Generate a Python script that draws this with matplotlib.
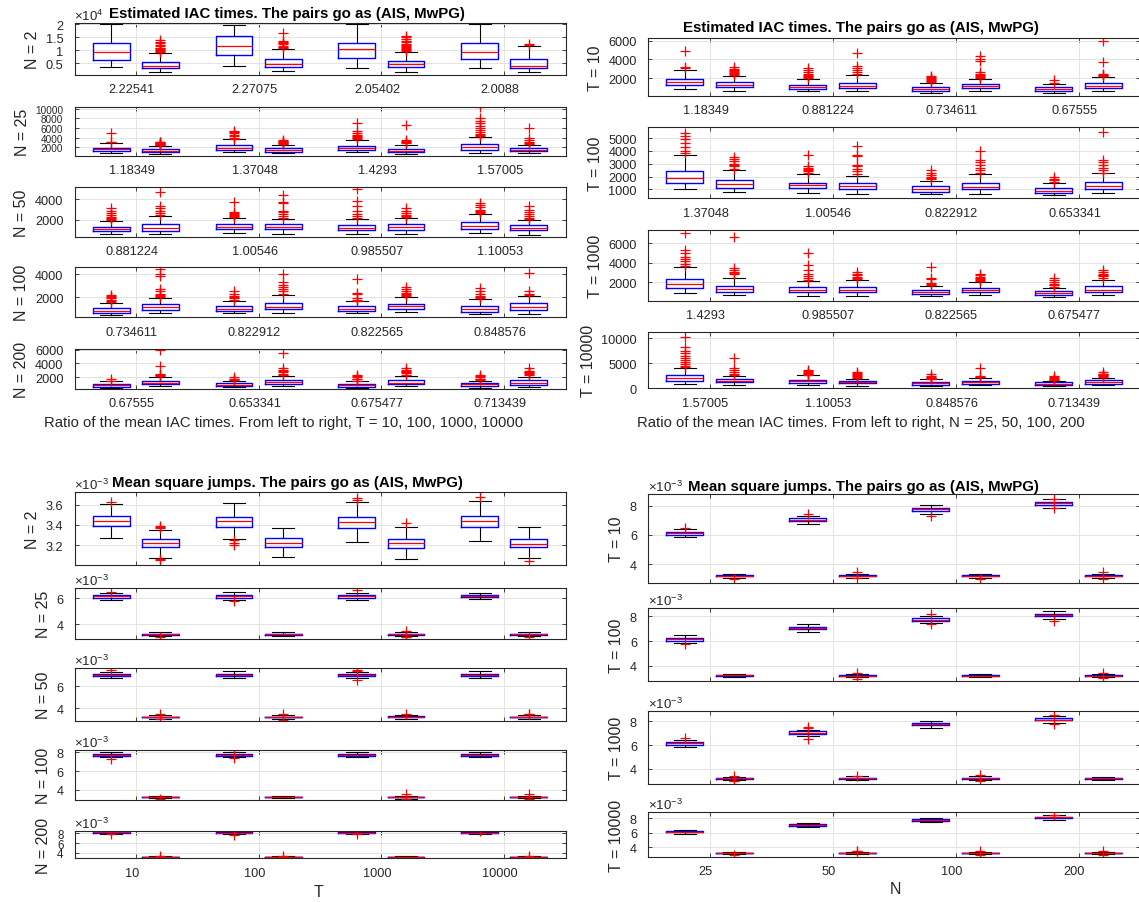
import matplotlib
matplotlib.use('Agg')
import matplotlib.pyplot as plt
from matplotlib.transforms import ScaledTranslation

plt.rcParams['font.family'] = ['Liberation Sans', 'DejaVu Sans']
plt.rcParams['mathtext.default'] = 'regular'

# ---------------- data ----------------
N_vals = [2, 25, 50, 100, 200]
T_vals = [10, 100, 1000, 10000]

# ratio of mean IAC times, rows N, columns T
ratio = [[2.22541, 2.27075, 2.05402, 2.0088],
         [1.18349, 1.37048, 1.4293, 1.57005],
         [0.881224, 1.00546, 0.985507, 1.10053],
         [0.734611, 0.822912, 0.822565, 0.848576],
         [0.67555, 0.653341, 0.675477, 0.713439]]

# IAC times, AIS  (rows N, columns T)
iac_ais_q1 = [[6300, 8300, 7000, 6400], [1280, 1460, 1400, 1500], [870, 1080, 980, 1050],
              [690, 830, 780, 760], [660, 700, 660, 700]]
iac_ais_med = [[9200, 11500, 10300, 9300], [1580, 1880, 1800, 2050], [1050, 1320, 1220, 1400],
               [860, 1030, 975, 1000], [850, 890, 850, 960]]
iac_ais_q3 = [[12800, 15600, 12800, 12800], [1950, 2410, 2320, 2640], [1300, 1530, 1500, 1750],
              [1050, 1250, 1220, 1280], [1050, 1110, 1060, 1190]]
iac_ais_lo = [[3400, 4000, 3100, 3000], [850, 990, 920, 850], [620, 700, 620, 660],
              [450, 640, 640, 550], [450, 520, 480, 450]]
iac_ais_hi = [[20000, 19600, 20000, 20000], [2920, 3700, 3560, 4150], [1890, 2170, 2100, 2600],
              [1470, 1650, 1660, 1830], [1420, 1500, 1440, 1520]]
iac_ais_fl = [
    [[], [], [], []],
    [[3100, 3200, 4900], [3800, 4000, 4300, 4600, 4900, 5200, 5400],
     [3700, 3900, 4200, 4400, 4600, 5000, 5300, 7100],
     [4300, 4500, 4800, 5200, 5600, 6000, 6500, 7000, 7500, 8200, 10300]],
    [[2000, 2100, 2200, 2300, 2500, 2700, 2900, 3100], [2300, 2400, 2500, 2600, 2700, 2800, 3700],
     [2200, 2400, 2600, 2900, 3300, 3800, 5000], [2700, 2800, 2900, 3000, 3200, 3400, 3600]],
    [[1600, 1700, 1800, 1900, 2000, 2100, 2200], [1800, 1900, 2000, 2100, 2300, 2500],
     [1700, 1800, 1900, 2300, 2400, 3600], [1900, 2000, 2100, 2300, 2500, 2800]],
    [[1500, 1800], [1600, 1700, 1800, 2000], [1500, 1700, 1800, 2000, 2200, 2400],
     [1600, 1700, 1800, 2000, 2200, 2400]]]

# IAC times, MwPG
iac_mw_q1 = [[3000, 3400, 3400, 3000], [1060, 1120, 1030, 1180], [930, 1050, 990, 980],
             [950, 990, 990, 880], [960, 990, 980, 950]]
iac_mw_med = [[4000, 4500, 4600, 4000], [1300, 1400, 1330, 1480], [1170, 1270, 1250, 1230],
              [1170, 1200, 1220, 1200], [1200, 1270, 1220, 1240]]
iac_mw_q3 = [[5300, 6400, 5800, 6400], [1600, 1760, 1620, 1830], [1540, 1530, 1530, 1460],
             [1390, 1490, 1460, 1500], [1510, 1580, 1580, 1610]]
iac_mw_lo = [[1650, 1800, 1700, 1400], [700, 760, 700, 720], [600, 630, 630, 540],
             [620, 620, 700, 580], [700, 700, 700, 640]]
iac_mw_hi = [[8800, 10500, 9200, 11500], [2280, 2470, 2430, 2450], [2360, 2070, 2200, 1950],
             [1920, 2180, 2000, 2150], [2100, 2240, 2240, 2080]]
iac_mw_fl = [
    [[9300, 9600, 10000, 10300, 10700, 11000, 11500, 12000, 12600, 13300, 14000],
     [11000, 11300, 11800, 12200, 12600, 13000, 13500, 16600],
     [9600, 10000, 10400, 10800, 11200, 11600, 12000, 12500, 13000, 13500, 14200, 15000, 15500],
     [12000, 12300]],
    [[2400, 2500, 2600, 2700, 2800, 2900, 3000, 3200], [2600, 2800, 2900, 3000, 3200, 3400, 3500],
     [2900, 3000, 3100, 3300, 3500, 6600], [2700, 2900, 3200, 3600, 4000, 6000]],
    [[2500, 2700, 2900, 3100, 3300, 4700], [2200, 2400, 2600, 2800, 2900, 3600, 3700, 4400],
     [2300, 2400, 2500, 2700, 2900, 3100], [2100, 2200, 2400, 2600, 2800, 3000, 3300]],
    [[2000, 2100, 2200, 2300, 2500, 2700, 3800, 4000, 4400], [2300, 2500, 2700, 2900, 3100, 3300, 4000],
     [2100, 2200, 2300, 2400, 2500, 2700, 2900], [2200, 2300, 2500, 4100]],
    [[2200, 2300, 2400, 2500, 3700, 5950], [2300, 2500, 2700, 2900, 3100, 3300, 5500],
     [2400, 2600, 2700, 2800, 2900, 3100, 3300], [2300, 2500, 2600, 2700, 2800, 2900, 3300]]]

# Mean square jumps (in units of 1e-3), AIS
msj_ais_q1 = [[3.392, 3.382, 3.369, 3.382], [6.03, 6.04, 6.03, 6.05], [6.95, 6.95, 6.96, 6.95],
              [7.65, 7.65, 7.65, 7.64], [8.08, 8.05, 8.07, 8.06]]
msj_ais_med = [[3.435, 3.441, 3.425, 3.435], [6.13, 6.15, 6.14, 6.16], [7.05, 7.06, 7.05, 7.06],
               [7.75, 7.74, 7.75, 7.74], [8.17, 8.10, 8.15, 8.13]]
msj_ais_q3 = [[3.484, 3.481, 3.474, 3.484], [6.23, 6.25, 6.24, 6.26], [7.16, 7.16, 7.15, 7.16],
              [7.85, 7.84, 7.85, 7.84], [8.26, 8.20, 8.24, 8.22]]
msj_ais_lo = [[3.266, 3.260, 3.226, 3.243], [5.88, 5.87, 5.88, 5.90], [6.76, 6.76, 6.80, 6.77],
              [7.46, 7.46, 7.47, 7.46], [7.86, 7.80, 7.85, 7.83]]
msj_ais_hi = [[3.607, 3.613, 3.623, 3.640], [6.40, 6.48, 6.42, 6.42], [7.33, 7.36, 7.30, 7.36],
              [8.03, 8.03, 8.02, 8.02], [8.47, 8.40, 8.45, 8.42]]
msj_ais_fl = [[[3.63], [3.245, 3.225, 3.205], [3.645, 3.665], [3.678]],
              [[6.50], [5.75], [6.62], []],
              [[7.45], [], [7.50, 7.40, 6.55], []],
              [[7.32], [8.20, 7.35], [], []],
              [[8.45, 7.82], [7.65], [8.55, 7.80], [8.50]]]

# Mean square jumps (in units of 1e-3), MwPG
msj_mw_q1 = [[3.177, 3.177, 3.167, 3.177], [3.17, 3.17, 3.17, 3.17], [3.17, 3.17, 3.17, 3.17],
             [3.17, 3.17, 3.17, 3.17], [3.17, 3.17, 3.17, 3.17]]
msj_mw_med = [[3.217, 3.217, 3.217, 3.210], [3.21, 3.22, 3.21, 3.21], [3.21, 3.21, 3.22, 3.21],
              [3.21, 3.21, 3.21, 3.22], [3.21, 3.21, 3.21, 3.21]]
msj_mw_q3 = [[3.256, 3.266, 3.256, 3.256], [3.25, 3.26, 3.25, 3.25], [3.25, 3.25, 3.26, 3.25],
             [3.25, 3.25, 3.25, 3.26], [3.25, 3.25, 3.25, 3.25]]
msj_mw_lo = [[3.074, 3.084, 3.061, 3.074], [3.07, 3.06, 3.07, 3.07], [3.07, 3.07, 3.07, 3.07],
             [3.07, 3.07, 3.06, 3.07], [3.07, 3.07, 3.07, 3.07]]
msj_mw_hi = [[3.352, 3.369, 3.382, 3.375], [3.36, 3.37, 3.36, 3.36], [3.36, 3.36, 3.37, 3.36],
             [3.36, 3.36, 3.37, 3.36], [3.36, 3.36, 3.36, 3.36]]
msj_mw_fl = [[[3.37, 3.38, 3.39, 3.05, 3.06], [], [3.415], [3.045]],
             [[3.00], [], [3.45, 3.02, 2.98], [2.97]],
             [[3.45, 3.05], [3.45, 2.95], [3.45], [3.45, 3.50]],
             [[2.98], [], [3.50, 3.00], [3.50, 3.00]],
             [[3.45, 3.00], [3.45, 3.00], [], [3.45, 3.00]]]

# ---------------- layout (pixels) ----------------
W, H = 1139, 903
FS = 9.2
DARK = '#262626'
fig = plt.figure(figsize=(W / 100, H / 100), dpi=100)

LX = (74.5, 565.5)
RX = (648, 1140)
tl_rows = [(24, 76), (107.7, 156.7), (188.3, 237.7), (268.3, 318.3), (350, 390)]
tr_rows = [(39.3, 96.7), (128.3, 199.3), (230.7, 301.7), (333.3, 389.3)]
bl_rows = [(493.3, 565.7), (589.3, 640), (669.3, 721.7), (751, 801), (831.7, 859.3)]
br_rows = [(495, 584), (609.3, 681.7), (711.7, 785), (813.3, 857.7)]

tl_ylim = [(400, 20500), (250, 10450), (330, 5180), (280, 4580), (300, 6100)]
tl_yticks = [[5000, 10000, 15000, 20000], [2000, 4000, 6000, 8000, 10000], [2000, 4000],
             [2000, 4000], [2000, 4000, 6000]]
tr_ylim = [(150, 6250), (300, 5840), (110, 7400), (0, 11200)]
tr_yticks = [[2000, 4000, 6000], [1000, 2000, 3000, 4000, 5000], [2000, 4000, 6000], [0, 5000, 10000]]
bl_ylim = [(3.005, 3.723), (2.85, 6.75), (2.87, 7.64), (2.9, 8.25), (2.92, 8.53)]
bl_yticks = [[3.2, 3.4, 3.6], [4, 6], [4, 6], [4, 6, 8], [4, 6, 8]]
br_ylim = [(2.72, 8.8), (2.79, 8.65), (2.74, 8.89), (2.7, 8.83)]
br_yticks = [[4, 6, 8]] * 4

shift = ScaledTranslation(-4 / 100, 0, fig.dpi_scale_trans)


def add_ax(xs, row):
    x0, x1 = xs
    top, bot = row
    return fig.add_axes([x0 / W, 1 - bot / H, (x1 - x0) / W, (bot - top) / H])


def stat(q1, med, q3, lo, hi, fl):
    return dict(q1=q1, med=med, q3=q3, whislo=lo, whishi=hi, fliers=fl)


def style(ax, ylim, yticks, ylabel, xlabels, yfs=FS):
    ax.set_xlim(0.5, 4.5)
    ax.set_ylim(*ylim)
    ax.set_xticks([1, 2, 3, 4])
    ax.set_yticks(yticks)
    ax.grid(True, color='#e3e3e3', lw=0.7)
    ax.set_axisbelow(True)
    for s in ax.spines.values():
        s.set_color(DARK)
        s.set_linewidth(0.8)
    ax.tick_params(direction='in', top=True, right=True, length=3, width=0.6,
                   colors=DARK, labelsize=FS)
    ax.tick_params(axis='x', pad=6)
    ax.tick_params(axis='y', pad=8, labelsize=yfs)
    if xlabels is None:
        ax.set_xticklabels([])
    else:
        ax.set_xticklabels(xlabels)
        for lb in ax.get_xticklabels():
            lb.set_transform(lb.get_transform() + shift)
    ax.set_ylabel(ylabel, fontsize=11.5, color=DARK, labelpad=4)


def draw(ax, stats, positions):
    ax.bxp(stats, positions=positions, widths=0.3, capwidths=0.18, manage_ticks=False,
           boxprops=dict(color='blue', lw=1.0),
           medianprops=dict(color='red', lw=0.9),
           whiskerprops=dict(color='black', lw=0.8),
           capprops=dict(color='black', lw=0.8),
           flierprops=dict(marker='+', markeredgecolor='red', markersize=7.5,
                           markeredgewidth=0.9, linestyle='none'))


def expo(ax, txt):
    ax.text(0.0, 1.0, txt, transform=ax.transAxes, ha='left', va='bottom',
            fontsize=FS + 0.3, color=DARK)


pos = [1 - 0.2, 1 + 0.2, 2 - 0.2, 2 + 0.2, 3 - 0.2, 3 + 0.2, 4 - 0.2, 4 + 0.2]

# ---- top-left: IAC, rows N ----
for i, N in enumerate(N_vals):
    ax = add_ax(LX, tl_rows[i])
    st = []
    for j in range(4):
        st.append(stat(iac_ais_q1[i][j], iac_ais_med[i][j], iac_ais_q3[i][j],
                       iac_ais_lo[i][j], iac_ais_hi[i][j], iac_ais_fl[i][j]))
        st.append(stat(iac_mw_q1[i][j], iac_mw_med[i][j], iac_mw_q3[i][j],
                       iac_mw_lo[i][j], iac_mw_hi[i][j], iac_mw_fl[i][j]))
    draw(ax, st, pos)
    style(ax, tl_ylim[i], tl_yticks[i], f'N = {N}', ['%g' % r for r in ratio[i]],
          yfs=(7.2 if i == 1 else FS))
    if i == 0:
        ax.set_yticklabels(['0.5', '1', '1.5', '2'])
        expo(ax, r'$\times10^{4}$')

# ---- top-right: IAC, rows T ----
for j, T in enumerate(T_vals):
    ax = add_ax(RX, tr_rows[j])
    st = []
    for i in range(1, 5):
        st.append(stat(iac_ais_q1[i][j], iac_ais_med[i][j], iac_ais_q3[i][j],
                       iac_ais_lo[i][j], iac_ais_hi[i][j], iac_ais_fl[i][j]))
        st.append(stat(iac_mw_q1[i][j], iac_mw_med[i][j], iac_mw_q3[i][j],
                       iac_mw_lo[i][j], iac_mw_hi[i][j], iac_mw_fl[i][j]))
    draw(ax, st, pos)
    style(ax, tr_ylim[j], tr_yticks[j], f'T = {T}', ['%g' % ratio[i][j] for i in range(1, 5)])

# ---- bottom-left: MSJ, rows N ----
for i, N in enumerate(N_vals):
    ax = add_ax(LX, bl_rows[i])
    st = []
    for j in range(4):
        st.append(stat(msj_ais_q1[i][j], msj_ais_med[i][j], msj_ais_q3[i][j],
                       msj_ais_lo[i][j], msj_ais_hi[i][j], msj_ais_fl[i][j]))
        st.append(stat(msj_mw_q1[i][j], msj_mw_med[i][j], msj_mw_q3[i][j],
                       msj_mw_lo[i][j], msj_mw_hi[i][j], msj_mw_fl[i][j]))
    draw(ax, st, pos)
    last = i == len(N_vals) - 1
    style(ax, bl_ylim[i], bl_yticks[i], f'N = {N}', [str(t) for t in T_vals] if last else None,
          yfs=(8.3 if last else FS))
    ax.set_yticklabels(['%g' % v for v in bl_yticks[i]])
    expo(ax, r'$\times10^{-3}$')

# ---- bottom-right: MSJ, rows T ----
for j, T in enumerate(T_vals):
    ax = add_ax(RX, br_rows[j])
    st = []
    for i in range(1, 5):
        st.append(stat(msj_ais_q1[i][j], msj_ais_med[i][j], msj_ais_q3[i][j],
                       msj_ais_lo[i][j], msj_ais_hi[i][j], msj_ais_fl[i][j]))
        st.append(stat(msj_mw_q1[i][j], msj_mw_med[i][j], msj_mw_q3[i][j],
                       msj_mw_lo[i][j], msj_mw_hi[i][j], msj_mw_fl[i][j]))
    draw(ax, st, pos)
    last = j == len(T_vals) - 1
    style(ax, br_ylim[j], br_yticks[j], f'T = {T}', [str(n) for n in N_vals[1:]] if last else None)
    ax.set_yticklabels(['%g' % v for v in br_yticks[j]])
    expo(ax, r'$\times10^{-3}$')

# ---- titles and x labels ----
kw_t = dict(ha='center', va='center', fontsize=10.8, fontweight='bold', color='black')
fig.text(287 / W, 1 - 14 / H, 'Estimated IAC times. The pairs go as (AIS, MwPG)', **kw_t)
fig.text(861 / W, 1 - 28 / H, 'Estimated IAC times. The pairs go as (AIS, MwPG)', **kw_t)
fig.text(287 / W, 1 - 483 / H, 'Mean square jumps. The pairs go as (AIS, MwPG)', **kw_t)
fig.text(863 / W, 1 - 486.7 / H, 'Mean square jumps. The pairs go as (AIS, MwPG)', **kw_t)

kw_x = dict(ha='center', va='center', fontsize=10.7, color=DARK)
fig.text(283.6 / W, 1 - 423 / H,
         'Ratio of the mean IAC times. From left to right, T = 10, 100, 1000, 10000', **kw_x)
fig.text(861 / W, 1 - 423 / H,
         'Ratio of the mean IAC times. From left to right, N = 25, 50, 100, 200', **kw_x)
fig.text(318 / W, 1 - 893 / H, 'T', fontsize=11.5, ha='center', va='center', color=DARK)
fig.text(895.5 / W, 1 - 890 / H, 'N', fontsize=11.5, ha='center', va='center', color=DARK)

fig.savefig('out.png', dpi=100)
